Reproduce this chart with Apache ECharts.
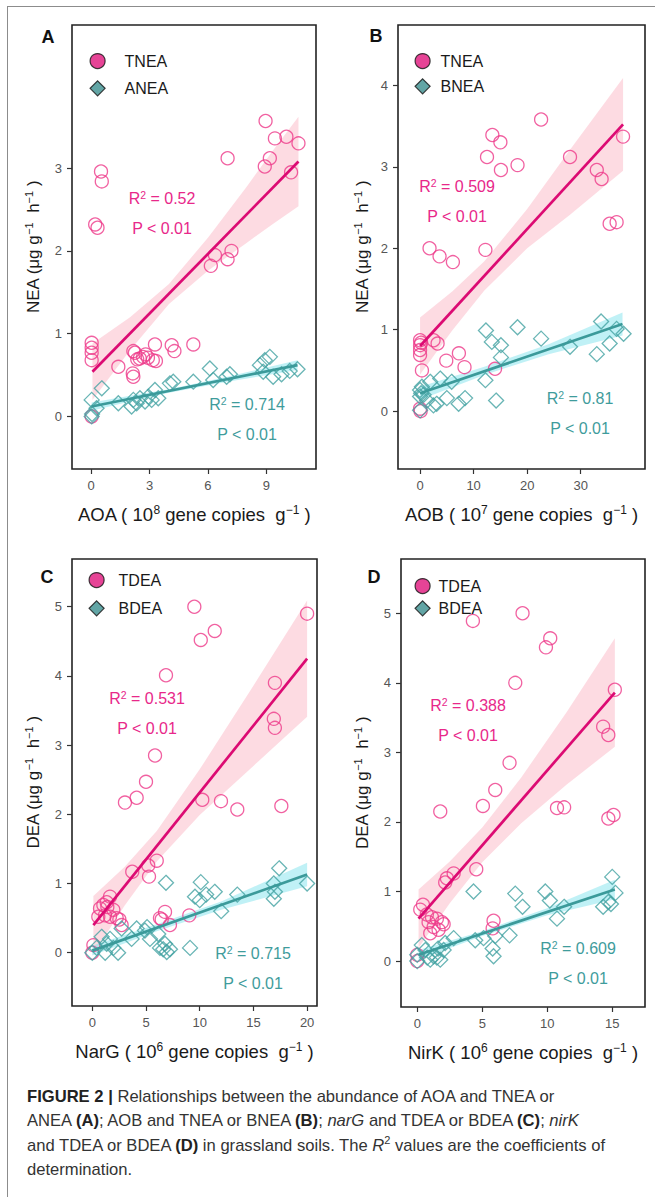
<!DOCTYPE html>
<html>
<head>
<meta charset="utf-8">
<script src="https://cdn.jsdelivr.net/npm/echarts@6/dist/echarts.min.js"></script>
<style>
html,body{margin:0;padding:0;background:#fff;}
#wrap{position:relative;width:655px;height:1197px;overflow:hidden;background:#fff;}
#chart{position:absolute;left:0;top:0;width:655px;height:1197px;}
#frame{position:absolute;left:7px;top:6px;width:700px;height:1300px;border-top:1.5px solid #8c8c8c;border-left:1.5px solid #8c8c8c;pointer-events:none;}
#caption{position:absolute;left:27px;top:1085px;white-space:nowrap;font-family:'Liberation Sans',Arial,sans-serif;font-size:16.6px;line-height:24.3px;color:#333;}
#caption b{color:#222;}
</style>
</head>
<body>
<div id="wrap">
  <div id="chart"></div>
  <div id="frame"></div>
  <div id="caption"><b>FIGURE 2 |</b> Relationships between the abundance of AOA and TNEA or<br>ANEA <b>(A)</b>; AOB and TNEA or BNEA <b>(B)</b>; <i>narG</i> and TDEA or BDEA <b>(C)</b>; <i>nirK</i><br>and TDEA or BDEA <b>(D)</b> in grassland soils. The <i>R</i><sup style="font-size:11px;line-height:0">2</sup> values are the coefficients of<br>determination.</div>
</div>
<script>
// ---------------- DATA ----------------
// Panel A: AOA (10^8 gene copies g^-1) vs NEA
const tneaA = [[8.96,3.57],[9.44,3.36],[10.03,3.38],[10.65,3.30],[7.01,3.12],[9.18,3.12],[8.92,3.02],[10.27,2.95],[0.51,2.96],[0.55,2.84],[0.21,2.32],[0.33,2.28],[6.36,1.95],[7.21,2.0],[6.15,1.82],[7.01,1.90],[0.03,0.89],[0.03,0.83],[0.03,0.77],[0.03,0.68],[1.40,0.60],[2.17,0.79],[2.25,0.77],[2.37,0.69],[2.67,0.72],[2.92,0.71],[3.17,0.68],[3.28,0.87],[3.33,0.67],[2.14,0.52],[2.17,0.48],[4.14,0.86],[4.28,0.79],[5.25,0.87],[0.03,0.0],[2.8,0.75],[2.5,0.70]];
const aneaA = [[0.03,0.0],[0.05,0.03],[0.03,0.20],[0.55,0.34],[0.28,0.10],[1.40,0.16],[2.08,0.12],[2.17,0.20],[2.34,0.16],[2.51,0.22],[2.77,0.18],[2.94,0.24],[3.11,0.20],[3.28,0.32],[3.45,0.22],[4.05,0.40],[4.22,0.42],[5.25,0.42],[6.10,0.58],[6.27,0.44],[6.96,0.48],[7.13,0.51],[8.67,0.62],[8.92,0.68],[9.18,0.72],[8.84,0.54],[9.35,0.48],[9.78,0.51],[10.2,0.55],[10.6,0.57]];
const fitTneaA = [[0.07,0.54],[10.65,3.08]];
const fitAneaA = [[0.03,0.12],[10.6,0.62]];
const bandTneaA = [[0.07,0.20,0.88],[2,0.80,1.20],[4,1.36,1.60],[6,1.76,2.16],[8,2.10,2.78],[9.3,2.32,3.20],[10.65,2.54,3.62]];
const bandAneaA = [[0.03,0.07,0.17],[2,0.18,0.25],[4,0.285,0.33],[7,0.42,0.48],[10.6,0.56,0.68]];

// Panel B: AOB (10^7 gene copies g^-1) vs NEA
const tneaB = [[22.6,3.58],[13.5,3.39],[15.0,3.30],[12.5,3.12],[15.1,2.96],[18.2,3.02],[28.0,3.12],[33.0,2.96],[33.9,2.85],[37.9,3.37],[35.4,2.30],[36.7,2.32],[1.77,2.00],[3.64,1.90],[6.13,1.83],[12.2,1.98],[0,0.87],[0,0.81],[0,0.75],[0,0.69],[0.2,0.84],[2.52,0.87],[3.27,0.83],[7.25,0.71],[4.89,0.62],[8.30,0.54],[0.35,0.50],[14.0,0.52],[0,0.03],[0.1,0.0]];
const bneaB = [[0,0.01],[0,0.26],[0,0.18],[0.35,0.30],[0.66,0.20],[1.9,0.36],[3.76,0.40],[5.0,0.16],[5.9,0.36],[3.1,0.09],[7.2,0.09],[8.4,0.16],[12.2,0.38],[14.2,0.13],[12.3,0.99],[13.4,0.85],[15.1,0.81],[15.1,0.66],[18.2,1.03],[22.6,0.89],[28.0,0.79],[33.0,0.70],[33.8,1.10],[35.4,0.83],[36.7,1.01],[38.0,0.95],[1.3,0.13],[2.5,0.07],[0.2,0.22]];
const fitTneaB = [[0,0.80],[37.9,3.52]];
const fitBneaB = [[0,0.22],[37.8,1.07]];
const bandTneaB = [[0,0.45,1.15],[6,0.99,1.47],[12,1.48,1.84],[20,2.0,2.48],[28,2.41,3.21],[37.9,2.95,4.09]];
const bandBneaB = [[0,0.14,0.30],[12,0.445,0.545],[24,0.70,0.82],[37.8,0.93,1.21]];

// Panel C: NarG (10^6 gene copies g^-1) vs DEA
const tdeaC = [[9.50,5.0],[20.0,4.90],[11.4,4.65],[10.1,4.52],[6.86,4.01],[17.0,3.90],[16.9,3.38],[17.0,3.25],[5.84,2.85],[5.0,2.47],[4.13,2.24],[3.04,2.17],[10.24,2.21],[11.98,2.19],[13.5,2.07],[17.6,2.12],[3.72,1.17],[5.21,1.26],[6.0,1.33],[5.28,1.10],[1.03,0.69],[1.65,0.81],[1.34,0.73],[0.72,0.64],[1.96,0.62],[1.18,0.54],[1.65,0.52],[2.27,0.50],[2.52,0.48],[2.73,0.40],[0.56,0.52],[0.1,0.11],[0,0.0],[6.77,0.59],[6.46,0.48],[7.23,0.40],[9.03,0.54],[6.3,0.5],[1.4,0.66]];
const bdeaC = [[0,0],[0.4,0.07],[0.87,0.23],[1.34,0.13],[1.65,0.20],[1.96,0.07],[2.4,0.0],[1.2,0.0],[2.73,0.35],[3.66,0.20],[4.13,0.35],[4.9,0.32],[5.1,0.37],[5.37,0.20],[6.14,0.27],[6.3,0.07],[6.6,0.05],[6.77,0.13],[6.93,0.01],[7.23,0.05],[6.86,1.01],[9.1,0.07],[9.56,0.81],[10.1,1.02],[10.0,0.76],[10.6,0.84],[11.4,0.88],[12.0,0.60],[13.5,0.84],[16.9,1.0],[16.9,0.78],[17.4,1.22],[17.0,0.88],[20.0,1.0]];
const fitTdeaC = [[0.1,0.40],[20,4.25]];
const fitBdeaC = [[0,0.03],[20,1.13]];
const bandTdeaC = [[0.1,-0.02,0.82],[3,0.68,1.24],[6,1.32,1.76],[10,1.99,2.65],[15,2.70,3.86],[20,3.41,5.09]];
const bandBdeaC = [[0,-0.04,0.10],[6,0.31,0.41],[12,0.62,0.74],[20,0.96,1.30]];

// Panel D: NirK (10^6 gene copies g^-1) vs DEA
const tdeaD = [[8.10,5.0],[4.28,4.89],[10.23,4.64],[9.9,4.51],[7.54,4.0],[15.2,3.90],[14.3,3.37],[14.7,3.25],[7.1,2.85],[6.0,2.46],[5.05,2.23],[1.77,2.15],[10.75,2.20],[11.3,2.21],[14.7,2.05],[15.1,2.10],[4.54,1.32],[2.8,1.26],[2.28,1.19],[2.15,1.13],[0.44,0.81],[0.23,0.74],[0.74,0.67],[1.13,0.63],[0.87,0.56],[1.51,0.61],[1.9,0.56],[1.26,0.49],[1.0,0.40],[1.64,0.45],[2.03,0.53],[5.87,0.58],[5.8,0.47],[0,0.09],[0,0]];
const bdeaD = [[0,0],[0,0.09],[0.35,0.23],[0.63,0.16],[0.77,0.05],[1.0,0.02],[1.26,0.07],[1.51,0.05],[1.77,0.02],[2.03,0.16],[2.15,0.26],[2.8,0.33],[1.6,0.18],[4.33,1.0],[4.46,0.30],[5.1,0.33],[5.8,0.18],[5.87,0.07],[6.0,0.36],[7.1,0.37],[7.54,0.97],[8.1,0.78],[9.85,1.0],[10.2,0.87],[10.75,0.61],[11.3,0.78],[14.3,0.78],[14.7,0.85],[15.0,1.21],[15.25,0.98],[14.9,0.82]];
const fitTdeaD = [[0.1,0.61],[15.2,3.86]];
const fitBdeaD = [[0.1,0.09],[15.2,1.03]];
const bandTdeaD = [[0.1,0.19,1.03],[2.5,0.83,1.43],[5,1.42,1.92],[8,1.98,2.64],[11.5,2.54,3.58],[15.2,3.08,4.64]];
const bandBdeaD = [[0.1,0.02,0.16],[5,0.36,0.43],[10,0.66,0.76],[15.2,0.89,1.17]];

// Tick labels
const xTicksA = [0,3,6,9],   yTicksA = [0,1,2,3];
const xTicksB = [0,10,20,30], yTicksB = [0,1,2,3,4];
const xTicksC = [0,5,10,15,20], yTicksC = [0,1,2,3,4,5];
const xTicksD = [0,5,10,15], yTicksD = [0,1,2,3,4,5];

// Text
const statsA = ['0.52','0.714'], statsB = ['0.509','0.81'], statsC = ['0.531','0.715'], statsD = ['0.388','0.609'];

// ---------------- STYLE / LAYOUT ----------------
const FONT = "'Liberation Sans', Arial, Helvetica, sans-serif";
const MAG_LINE = '#dc0b73', MAG_PT = '#ee3a8a', MAG_BAND = 'rgba(251,190,202,0.55)', MAG_TXT = '#e8288a', MAG_FILL = '#e0157c';
const TEAL_LINE = '#3b9a9a', TEAL_PT = '#44a3a3', TEAL_BAND = 'rgba(130,228,238,0.5)', TEAL_TXT = '#3f9c9c', TEAL_FILL = '#3b8f8e';
const S = '\u00A0';

const grids = [
  {left:72, top:25, width:244, height:444},
  {left:398, top:25, width:247, height:444},
  {left:72, top:559, width:245, height:447},
  {left:401, top:559, width:244, height:448}
];
const xRanges = [[-0.98,11.55],[-4.12,42.0],[-1.89,20.92],[-1.25,17.52]];
const yRanges = [[-0.635,4.73],[-0.71,4.74],[-0.77,5.69],[-0.66,5.78]];
const xTicks = [xTicksA,xTicksB,xTicksC,xTicksD];
const yTicks = [yTicksA,yTicksB,yTicksC,yTicksD];
const xNames = [
  'AOA ( 10{sup|8} gene copies '+S+'g{sup|−1} )',
  'AOB ( 10{sup|7} gene copies '+S+'g{sup|−1} )',
  'NarG ( 10{sup|6} gene copies '+S+'g{sup|−1} )',
  'NirK ( 10{sup|6} gene copies '+S+'g{sup|−1} )'
];
const yNames = ['NEA (μg g{sup|−1}'+S+S+'h{sup|−1}'+S+')','NEA (μg g{sup|−1}'+S+S+'h{sup|−1}'+S+')','DEA (μg g{sup|−1}'+S+S+'h{sup|−1}'+S+')','DEA (μg g{sup|−1}'+S+S+'h{sup|−1}'+S+')'];
const yNameGaps = [29,26,29,29];

const xRich = {sup:{fontSize:12, fontFamily:FONT, color:'#1a1a1a', verticalAlign:'top', lineHeight:12}};
const yRich = {sup:{fontSize:11, fontFamily:FONT, color:'#1a1a1a', verticalAlign:'top', lineHeight:12}};

const xAxis = grids.map((g,i)=>({
  type:'value', gridIndex:i, min:xRanges[i][0], max:xRanges[i][1],
  name:xNames[i], nameLocation:'middle', nameGap:35,
  nameTextStyle:{fontSize:18.5, color:'#1a1a1a', fontFamily:FONT, lineHeight:21, rich:xRich},
  axisLine:{show:false, onZero:false},
  axisTick:{show:true, inside:false, length:5, lineStyle:{color:'#333', width:1.2}, customValues:xTicks[i]},
  axisLabel:{customValues:xTicks[i], margin:10, fontSize:13, color:'#555', fontFamily:FONT},
  splitLine:{show:false}
}));
const yAxis = grids.map((g,i)=>({
  type:'value', gridIndex:i, min:yRanges[i][0], max:yRanges[i][1],
  name:yNames[i], nameLocation:'middle', nameGap:yNameGaps[i],
  nameTextStyle:{fontSize:17, color:'#1a1a1a', fontFamily:FONT, lineHeight:20, rich:yRich},
  axisLine:{show:false, onZero:false},
  axisTick:{show:true, inside:false, length:5, lineStyle:{color:'#333', width:1.2}, customValues:yTicks[i]},
  axisLabel:{customValues:yTicks[i], margin:10, fontSize:13, color:'#555', fontFamily:FONT},
  splitLine:{show:false}
}));

function band(data, gi, color){
  return {type:'custom', coordinateSystem:'cartesian2d', xAxisIndex:gi, yAxisIndex:gi, data:data, silent:true, z:1,
    encode:{x:0, y:[1,2]},
    renderItem:function(params, api){
      if (params.dataIndex !== 0) return;
      const top = data.map(d=>api.coord([d[0], d[2]]));
      const bot = data.map(d=>api.coord([d[0], d[1]])).reverse();
      return {type:'polygon', shape:{points:top.concat(bot)}, style:{fill:color}};
    }};
}
function fit(data, gi, color, name){
  return {type:'line', name:name, xAxisIndex:gi, yAxisIndex:gi, data:data, showSymbol:false, symbol:'none', silent:true, z:4,
    lineStyle:{color:color, width:2.7}};
}
function pts(name, data, gi, symbol, size, color){
  return {type:'scatter', name:name, xAxisIndex:gi, yAxisIndex:gi, data:data, symbol:symbol, symbolSize:size, silent:true, z:3,
    itemStyle:{color:'rgba(255,255,255,0)', borderColor:color, borderWidth:1.3}};
}

const series = [
  band(bandTneaA,0,MAG_BAND), band(bandAneaA,0,TEAL_BAND),
  pts('TNEA',tneaA,0,'circle',13,MAG_PT), pts('ANEA',aneaA,0,'diamond',15,TEAL_PT),
  fit(fitTneaA,0,MAG_LINE,'fitTneaA'), fit(fitAneaA,0,TEAL_LINE,'fitAneaA'),

  band(bandTneaB,1,MAG_BAND), band(bandBneaB,1,TEAL_BAND),
  pts('TNEA',tneaB,1,'circle',13,MAG_PT), pts('BNEA',bneaB,1,'diamond',15,TEAL_PT),
  fit(fitTneaB,1,MAG_LINE,'fitTneaB'), fit(fitBneaB,1,TEAL_LINE,'fitBneaB'),

  band(bandTdeaC,2,MAG_BAND), band(bandBdeaC,2,TEAL_BAND),
  pts('TDEA',tdeaC,2,'circle',13,MAG_PT), pts('BDEA',bdeaC,2,'diamond',15,TEAL_PT),
  fit(fitTdeaC,2,MAG_LINE,'fitTdeaC'), fit(fitBdeaC,2,TEAL_LINE,'fitBdeaC'),

  band(bandTdeaD,3,MAG_BAND), band(bandBdeaD,3,TEAL_BAND),
  pts('TDEA',tdeaD,3,'circle',13,MAG_PT), pts('BDEA',bdeaD,3,'diamond',15,TEAL_PT),
  fit(fitTdeaD,3,MAG_LINE,'fitTdeaD'), fit(fitBdeaD,3,TEAL_LINE,'fitBdeaD')
];

function legend(names, left, top, padLeft, gap){
  return {orient:'vertical', left:left, top:top, itemWidth:15, itemHeight:15, itemGap:gap, padding:0, selectedMode:false,
    textStyle:{fontSize:16, color:'#1a1a1a', fontFamily:FONT, lineHeight:15, padding:[0,0,0,padLeft]},
    data:[
      {name:names[0], icon:'circle', itemStyle:{color:MAG_FILL, borderColor:'#111', borderWidth:1.2}},
      {name:names[1], icon:'diamond', itemStyle:{color:TEAL_FILL, borderColor:'#111', borderWidth:1.2}}
    ]};
}

function stat(x, y, txt, color, sup){
  return {type:'text', x:x, y:y, silent:true, z:10,
    style:{text:txt, fill:color, font:'16px '+FONT, align:'center', verticalAlign:'middle',
      rich: sup ? {n:{fontSize:16, fontFamily:FONT, fill:color, color:color, lineHeight:18}, s:{fontSize:10.5, fontFamily:FONT, fill:color, color:color, verticalAlign:'top', lineHeight:18}} : undefined}};
}
function statPair(cx, cy, r2, color){
  return [stat(cx, cy, '{n|R}{s|2}{n| = '+r2+'}', color, true), stat(cx, cy+30, 'P < 0.01', color, false)];
}
function letter(x, y, t){
  return {type:'text', x:x, y:y, silent:true, style:{text:t, font:'bold 18px '+FONT, fill:'#111', align:'center', verticalAlign:'middle'}};
}

const graphic = [].concat(
  letter(48,37,'A'), letter(376,36,'B'), letter(47,577,'C'), letter(374,577,'D'),
  statPair(162,198,statsA[0],MAG_TXT), statPair(247,404,statsA[1],TEAL_TXT),
  statPair(457,186,statsB[0],MAG_TXT), statPair(580,398,statsB[1],TEAL_TXT),
  statPair(147,698,statsC[0],MAG_TXT), statPair(253,953,statsC[1],TEAL_TXT),
  statPair(468,705,statsD[0],MAG_TXT), statPair(578,948,statsD[1],TEAL_TXT)
);

const option = {
  animation:false,
  backgroundColor:'transparent',
  grid: grids.map(g=>Object.assign({show:true, borderColor:'#222', borderWidth:1.6, backgroundColor:'transparent', containLabel:false, outerBoundsMode:'none'}, g)),
  xAxis: xAxis, yAxis: yAxis,
  legend: [
    legend(['TNEA','ANEA'], 89.5, 53, 14.5, 11),
    legend(['TNEA','BNEA'], 414.5, 53, 5.5, 9),
    legend(['TDEA','BDEA'], 88.5, 572, 9.5, 12),
    legend(['TDEA','BDEA'], 414.5, 578, 3.5, 6)
  ],
  series: series,
  graphic: graphic
};

const chart = echarts.init(document.getElementById('chart'), null, {renderer:'svg', width:655, height:1197});
chart.setOption(option);
</script>
</body>
</html>
